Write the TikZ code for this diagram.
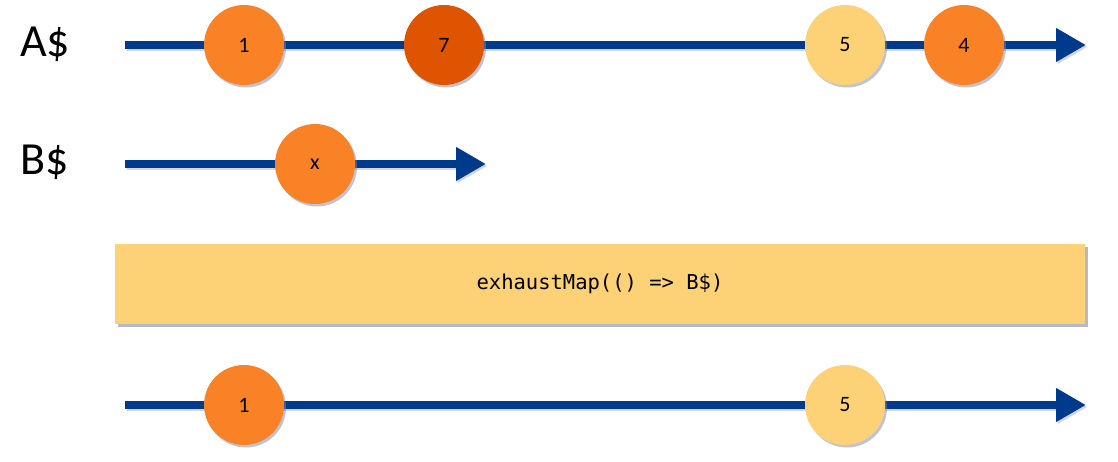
\documentclass[tikz,border=0pt]{standalone}
\usepackage{fontspec}
\setmainfont{Carlito}
\newfontfamily\codefont{DejaVu Sans Mono}
\usetikzlibrary{shadows,arrows.meta}
\definecolor{lineblue}{HTML}{003A8C}
\definecolor{orng}{HTML}{F98226}
\definecolor{dorng}{HTML}{DF5400}
\definecolor{lyel}{HTML}{FDD276}
\definecolor{shad}{HTML}{8088A8}
\tikzset{
  timeline/.style={draw=lineblue, line width=8.5pt, -{Triangle[length=30pt,width=32pt]},
    preaction={draw=shad, opacity=0.35, line width=8.5pt, transform canvas={xshift=1.5pt,yshift=-2pt}, -{Triangle[length=30pt,width=32pt]}}},
  marble/.style={circle, minimum size=80pt, inner sep=0pt, font=\fontsize{22}{22}\selectfont,
    drop shadow={shadow xshift=2pt, shadow yshift=-2.5pt, fill=shad, opacity=0.5}},
  streamlabel/.style={font=\fontsize{46}{46}\selectfont, anchor=center},
  opbox/.style={fill=lyel, minimum width=970pt, minimum height=80pt, inner sep=0pt,
    font=\codefont\fontsize{20.5}{20.5}\selectfont,
    drop shadow={shadow xshift=2.5pt, shadow yshift=-3pt, fill=shad, opacity=0.6}}
}
\begin{document}
\begin{tikzpicture}[x=1pt,y=-1pt]
\useasboundingbox (0,0) rectangle (1118,462);
% labels
\node[streamlabel] (la) at (45,44) {A\$};
\node[streamlabel] (lb) at (45,162) {B\$};
% line A
\coordinate (as) at (125,45);
\coordinate (ae) at (1086,45);
\draw[timeline] (as) -- (ae);
\node[marble, fill=orng] (a1) at (244,45) {1};
\node[marble, fill=dorng] (a7) at (444,45) {7};
\node[marble, fill=lyel] (a5) at (845,45) {5};
\node[marble, fill=orng] (a4) at (964,45) {4};
% line B
\coordinate (bs) at (125,164);
\coordinate (be) at (486,164);
\draw[timeline] (bs) -- (be);
\node[marble, fill=orng] (bx) at (315,164) {x};
% operator
\node[opbox] (op) at (600,284) {exhaustMap(() => B\$)};
% result
\coordinate (rs) at (125,405);
\coordinate (re) at (1086,405);
\draw[timeline] (rs) -- (re);
\node[marble, fill=orng] (r1) at (244,405) {1};
\node[marble, fill=lyel] (r5) at (845,405) {5};
\end{tikzpicture}
\end{document}
